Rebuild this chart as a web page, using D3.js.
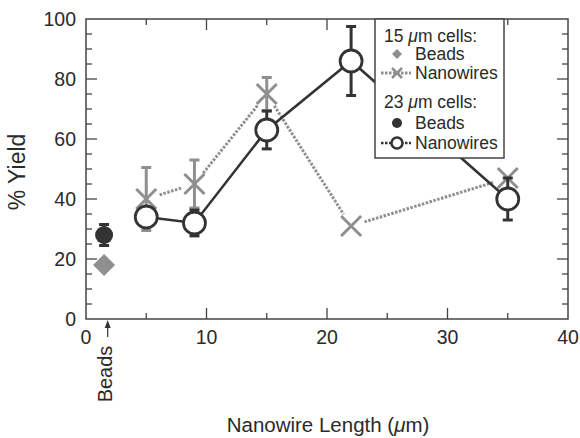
<!DOCTYPE html>
<html>
<head>
<meta charset="utf-8">
<script src="https://cdn.jsdelivr.net/npm/d3@7"></script>
<style>
  body { margin: 0; background: #fff; }
  svg text { font-family: "Liberation Sans", Arial, Helvetica, sans-serif; fill: #2a2a2a; }
</style>
</head>
<body>
<svg id="chart" width="580" height="438"></svg>
<script>
// data
var beadX = 1.5;
var beads15 = [{ x: beadX, y: 18, err: 0 }];
var beads23 = [{ x: beadX, y: 28, err: 3.5 }];
var wireLengths = [5, 9, 15, 22, 35];
var wires15 = [40, 45, 75, 31, 47];
var wires15Err = [10.5, 8, 5.5, 0, 0];
var wires23 = [34, 32, 63, 86, 40];
var wires23Err = [3, 4.3, 6.3, 11.5, 7];
var xMajor = [0, 10, 20, 30, 40];
var yMajor = [0, 20, 40, 60, 80, 100];

var dark = '#333', grey = '#8f8f8f';
var svg = d3.select('#chart');
var pLeft = 86, pRight = 568, pTop = 19, pBottom = 319;

var x = d3.scaleLinear().domain([0, 40]).range([pLeft, pRight]);
var y = d3.scaleLinear().domain([0, 100]).range([pBottom, pTop]);

var minorX = d3.range(0, 41, 5), minorY = d3.range(0, 101, 5);

// frame
svg.append('rect').attr('x', pLeft).attr('y', pTop)
  .attr('width', pRight - pLeft).attr('height', pBottom - pTop)
  .attr('fill', 'none').attr('stroke', '#444').attr('stroke-width', 1.5);

// ticks, inward on all four sides
function tickLen(v, step) { return v % step === 0 ? 11 : 6; }
var tk = svg.append('g').attr('stroke', '#444').attr('stroke-width', 1.3);
minorX.forEach(function(v) {
  if (v === 0 || v === 40) return;
  var L = tickLen(v, 10);
  tk.append('line').attr('x1', x(v)).attr('x2', x(v)).attr('y1', pBottom).attr('y2', pBottom - L);
  tk.append('line').attr('x1', x(v)).attr('x2', x(v)).attr('y1', pTop).attr('y2', pTop + L);
});
minorY.forEach(function(v) {
  if (v === 0 || v === 100) return;
  var L = tickLen(v, 20);
  tk.append('line').attr('x1', pLeft).attr('x2', pLeft + L).attr('y1', y(v)).attr('y2', y(v));
  tk.append('line').attr('x1', pRight).attr('x2', pRight - L).attr('y1', y(v)).attr('y2', y(v));
});

svg.selectAll('.xlab').data(xMajor).join('text')
  .attr('x', d => x(d)).attr('y', 344)
  .attr('text-anchor', 'middle').attr('font-size', 19.5).text(d => d);
svg.selectAll('.ylab').data(yMajor).join('text')
  .attr('x', 76).attr('y', d => y(d) + 7)
  .attr('text-anchor', 'end').attr('font-size', 19.5).text(d => d);

svg.append('text').attr('transform', 'translate(25,172) rotate(-90)')
  .attr('text-anchor', 'middle').attr('font-size', 23).text('% Yield');
var xt = svg.append('text').attr('x', x(20) + 1).attr('y', 432)
  .attr('text-anchor', 'middle').attr('font-size', 20.5);
xt.append('tspan').text('Nanowire Length (');
xt.append('tspan').attr('font-style', 'italic').text('μ');
xt.append('tspan').text('m)');

// "Beads" label with arrow
var bx = x(1.8);
svg.append('text').attr('transform', 'translate(' + (bx + 4) + ',374) rotate(-90)')
  .attr('text-anchor', 'middle').attr('font-size', 20).text('Beads');
svg.append('line').attr('x1', bx).attr('x2', bx).attr('y1', 337).attr('y2', 326)
  .attr('stroke', dark).attr('stroke-width', 1.2);
svg.append('path').attr('d', 'M' + bx + ',320 L' + (bx - 3) + ',328 L' + (bx + 3) + ',328 Z')
  .attr('fill', dark);

// helpers
function shortSegments(xs, ys, gap) {
  var segs = [];
  for (var i = 0; i < xs.length - 1; i++) {
    var x1 = x(xs[i]), y1 = y(ys[i]), x2 = x(xs[i + 1]), y2 = y(ys[i + 1]);
    var dx = x2 - x1, dy = y2 - y1, d = Math.sqrt(dx * dx + dy * dy);
    segs.push([x1 + dx / d * gap, y1 + dy / d * gap, x2 - dx / d * gap, y2 - dy / d * gap]);
  }
  return segs;
}
function errorBars(g, xs, ys, errs, color) {
  xs.forEach(function(xv, i) {
    if (!errs[i]) return;
    var cx = x(xv), y1 = y(ys[i] + errs[i]), y2 = y(ys[i] - errs[i]);
    g.append('line').attr('x1', cx).attr('x2', cx).attr('y1', y1).attr('y2', y2)
      .attr('stroke', color).attr('stroke-width', 3);
    [y1, y2].forEach(function(yy) {
      g.append('line').attr('x1', cx - 5).attr('x2', cx + 5).attr('y1', yy).attr('y2', yy)
        .attr('stroke', color).attr('stroke-width', 3);
    });
  });
}
function cross(g, cx, cy, s, w) {
  g.append('path').attr('d', 'M' + (cx - s) + ',' + (cy - s) + 'L' + (cx + s) + ',' + (cy + s) +
    'M' + (cx - s) + ',' + (cy + s) + 'L' + (cx + s) + ',' + (cy - s))
    .attr('stroke', grey).attr('stroke-width', w).attr('fill', 'none');
}
function diamond(g, cx, cy, s) {
  g.append('path').attr('d', 'M' + cx + ',' + (cy - s) + 'L' + (cx + s) + ',' + cy +
    'L' + cx + ',' + (cy + s) + 'L' + (cx - s) + ',' + cy + 'Z').attr('fill', grey);
}

// 15 um nanowires (grey, dotted)
var g15 = svg.append('g');
errorBars(g15, wireLengths, wires15, wires15Err, grey);
g15.selectAll('.seg').data(shortSegments(wireLengths, wires15, 14)).join('line')
  .attr('x1', d => d[0]).attr('y1', d => d[1]).attr('x2', d => d[2]).attr('y2', d => d[3])
  .attr('stroke', grey).attr('stroke-width', 3).attr('stroke-dasharray', '2.5,1.5');
wireLengths.forEach(function(v, i) { cross(g15, x(v), y(wires15[i]), 10, 3); });
beads15.forEach(function(d) { diamond(g15, x(d.x), y(d.y), 11); });

// 23 um nanowires (dark, solid)
var g23 = svg.append('g');
g23.append('path').datum(wireLengths.map((v, i) => [v, wires23[i]]))
  .attr('d', d3.line().x(d => x(d[0])).y(d => y(d[1])))
  .attr('fill', 'none').attr('stroke', dark).attr('stroke-width', 2.5);
errorBars(g23, wireLengths, wires23, wires23Err, dark);
g23.selectAll('.open').data(wireLengths).join('circle')
  .attr('cx', d => x(d)).attr('cy', (d, i) => y(wires23[i])).attr('r', 11)
  .attr('fill', '#fff').attr('stroke', dark).attr('stroke-width', 2.8);
errorBars(g23, beads23.map(d => d.x), beads23.map(d => d.y), beads23.map(d => d.err), dark);
g23.selectAll('.bead').data(beads23).join('circle')
  .attr('cx', d => x(d.x)).attr('cy', d => y(d.y)).attr('r', 9).attr('fill', dark);

// legend
var lg = svg.append('g');
lg.append('rect').attr('x', 375).attr('y', pTop).attr('width', 129).attr('height', 139)
  .attr('fill', '#fff').attr('stroke', '#444').attr('stroke-width', 1.5);
function head(yy, num) {
  var t = lg.append('text').attr('x', 384).attr('y', yy).attr('font-size', 17.5);
  t.append('tspan').text(num + ' ');
  t.append('tspan').attr('font-style', 'italic').text('μ');
  t.append('tspan').text('m cells:');
}
function item(yy, label) {
  lg.append('text').attr('x', 415).attr('y', yy).attr('font-size', 17.5).text(label);
}
head(42, 15);
diamond(lg, 397, 54, 5);
item(60, 'Beads');
lg.append('line').attr('x1', 381).attr('x2', 411).attr('y1', 73).attr('y2', 73)
  .attr('stroke', grey).attr('stroke-width', 3).attr('stroke-dasharray', '2.5,1.5');
cross(lg, 397, 73, 5, 2.5);
item(79, 'Nanowires');
head(108, 23);
lg.append('circle').attr('cx', 397).attr('cy', 123).attr('r', 5).attr('fill', dark);
item(129, 'Beads');
lg.append('line').attr('x1', 381).attr('x2', 411).attr('y1', 143).attr('y2', 143)
  .attr('stroke', dark).attr('stroke-width', 2.5).attr('stroke-dasharray', '2.5,1.5');
lg.append('circle').attr('cx', 397).attr('cy', 143).attr('r', 5.5)
  .attr('fill', '#fff').attr('stroke', dark).attr('stroke-width', 2.5);
item(149, 'Nanowires');
</script>
</body>
</html>
